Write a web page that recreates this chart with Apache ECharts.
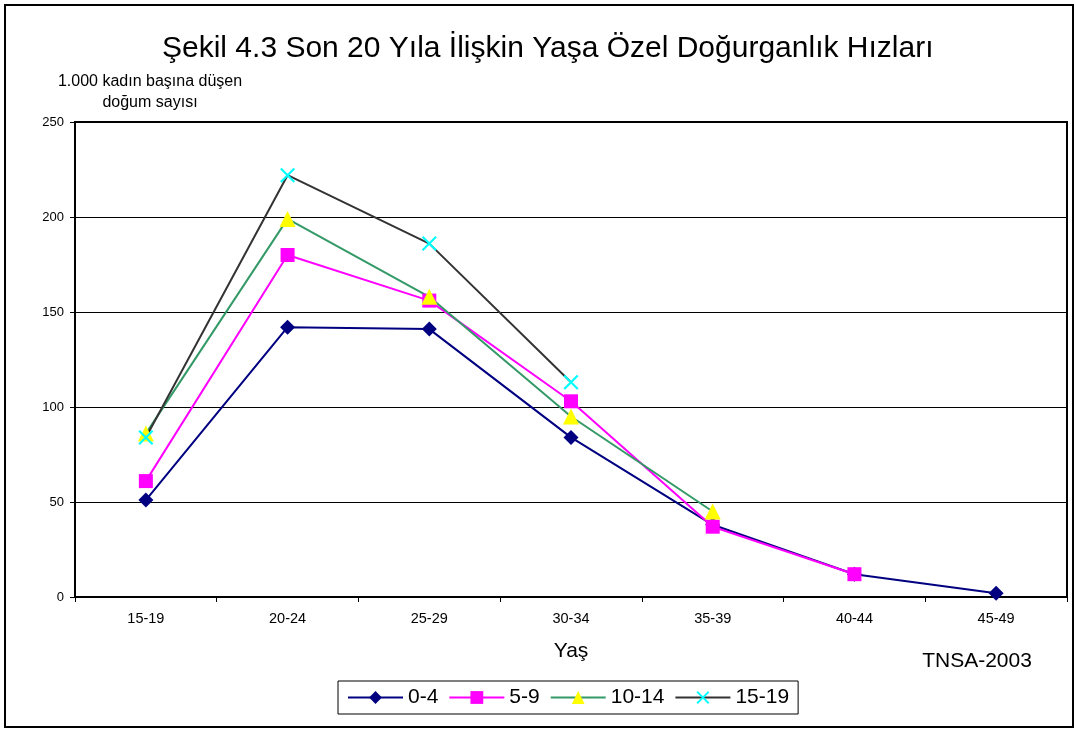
<!DOCTYPE html>
<html>
<head>
<meta charset="utf-8">
<script src="https://cdn.jsdelivr.net/npm/echarts@6/dist/echarts.min.js"></script>
<style>
html,body{margin:0;padding:0;background:#fff;}
#chart{width:1076px;height:730px;}
</style>
</head>
<body>
<div id="chart"></div>
<script>
const categories = ['15-19','20-24','25-29','30-34','35-39','40-44','45-49'];
const seriesNames = ['0-4','5-9','10-14','15-19'];
const s0_4   = [51, 142, 141, 84, 38, 12, 2];
const s5_9   = [61, 180, 156, 103, 37, 12, null];
const s10_14 = [86, 199, 158, 95, 45, null, null];
const s15_19 = [84, 222, 186, 113, null, null, null];
const yTicks = [0, 50, 100, 150, 200, 250];

const F = "'Liberation Sans', Arial, sans-serif";
const xPath = 'path://M2,0 L10,8 L18,0 L20,2 L12,10 L20,18 L18,20 L10,12 L2,20 L0,18 L8,10 L0,2 Z';

const chart = echarts.init(document.getElementById('chart'));
chart.setOption({
  animation: false,
  backgroundColor: '#fff',
  title: {
    text: 'Şekil 4.3 Son 20 Yıla İlişkin Yaşa Özel Doğurganlık Hızları',
    left: 157, top: 29,
    textStyle: {fontFamily: F, fontSize: 30, fontWeight: 'normal', color: '#000'}
  },
  graphic: [
    {type: 'rect', shape: {x: 5, y: 5, width: 1068, height: 722}, style: {fill: 'none', stroke: '#000', lineWidth: 2}, silent: true},
    {type: 'text', x: 150, y: 71.5, style: {text: '1.000 kadın başına düşen\ndoğum sayısı', fontFamily: F, fontSize: 16, lineHeight: 21, fill: '#000', align: 'center'}},
    {type: 'text', x: 977, y: 651, style: {text: 'TNSA-2003', fontFamily: F, fontSize: 21, fill: '#000', align: 'center'}}
  ],
  legend: {
    data: seriesNames,
    bottom: 16, left: 338,
    itemWidth: 55, itemHeight: 16, itemGap: 10,
    borderColor: '#000', borderWidth: 1, padding: [6, 9, 6, 9],
    textStyle: {fontFamily: F, fontSize: 21, color: '#000'}
  },
  grid: {left: 75, top: 122, width: 992, height: 475, show: true, borderColor: '#000', borderWidth: 2, backgroundColor: 'transparent'},
  xAxis: {
    type: 'category', data: categories, boundaryGap: true,
    name: 'Yaş', nameLocation: 'middle', nameGap: 44,
    nameTextStyle: {fontFamily: F, fontSize: 21, color: '#000'},
    axisLine: {lineStyle: {color: '#000', width: 2}},
    axisTick: {show: true, length: 5, lineStyle: {color: '#000'}},
    axisLabel: {fontFamily: F, fontSize: 14.5, color: '#000', margin: 14},
    splitLine: {show: false}
  },
  yAxis: {
    type: 'value', min: 0, max: 250, interval: 50,
    axisLine: {show: true, lineStyle: {color: '#000', width: 2}},
    axisTick: {show: true, length: 5, lineStyle: {color: '#000'}},
    axisLabel: {fontFamily: F, fontSize: 13, color: '#000', margin: 11},
    splitLine: {show: true, lineStyle: {color: '#000', width: 1}}
  },
  series: [
    {name: '0-4', type: 'line', data: s0_4, symbol: 'diamond', symbolSize: 15,
     lineStyle: {color: '#000080', width: 2}, itemStyle: {color: '#000080'}},
    {name: '5-9', type: 'line', data: s5_9, symbol: 'rect', symbolSize: 14,
     lineStyle: {color: '#FF00FF', width: 2}, itemStyle: {color: '#FF00FF'}},
    {name: '10-14', type: 'line', data: s10_14, symbol: 'triangle', symbolSize: 16,
     lineStyle: {color: '#339966', width: 2}, itemStyle: {color: '#FFFF00'}},
    {name: '15-19', type: 'line', data: s15_19, symbol: xPath, symbolSize: 15,
     lineStyle: {color: '#333333', width: 2}, itemStyle: {color: '#00FFFF'}}
  ]
});
</script>
</body>
</html>
